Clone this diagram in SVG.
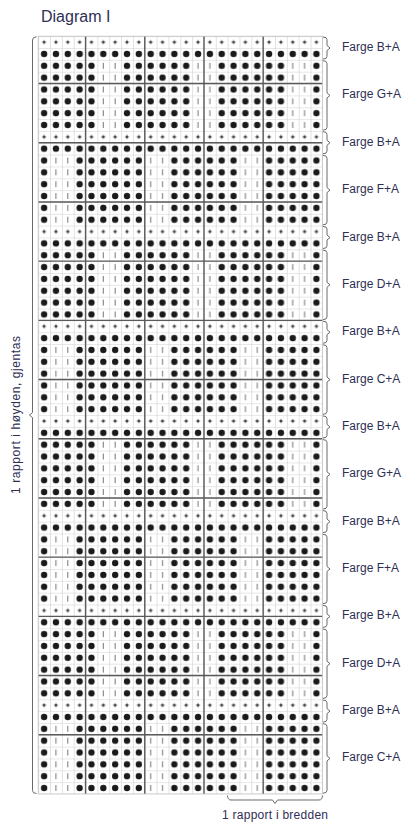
<svg xmlns="http://www.w3.org/2000/svg" width="408" height="823" viewBox="0 0 408 823">
<style>
text{font-family:"Liberation Sans",Arial,sans-serif;fill:#2f2f55}
.lbl{font-size:12px}
.brace{fill:none;stroke:#6a6a6a;stroke-width:1}
.thick{fill:none;stroke:#5a5a5a;stroke-width:1.4}
</style>
<defs>
<circle id="d" r="3.2" fill="#1a1a1a"/>
<line id="b" x1="0" y1="-3" x2="0" y2="3" stroke="#808080" stroke-width="1.1"/>
<g id="p"><path d="M-2.5 0H2.5M0 -2.5V2.5" stroke="#b0b0b0" stroke-width="0.7"/><circle r="1.5" fill="#444"/></g>
<pattern id="pGrid" x="38.2" y="36.2" width="11.84" height="11.84" patternUnits="userSpaceOnUse"><path d="M0 0H11.84M0 0V11.84" stroke="#cfcfcf" stroke-width="1.2" fill="none"/></pattern>
<pattern id="pPlus" x="38.2" y="36.2" width="11.84" height="11.84" patternUnits="userSpaceOnUse"><use href="#p" x="5.92" y="5.92"/></pattern>
<pattern id="pDot" x="38.2" y="36.2" width="11.84" height="11.84" patternUnits="userSpaceOnUse"><use href="#d" x="5.92" y="5.92"/></pattern>
<pattern id="pA" x="38.2" y="36.2" width="94.72" height="11.84" patternUnits="userSpaceOnUse">
<use href="#d" x="5.92" y="5.92"/><use href="#d" x="17.76" y="5.92"/><use href="#d" x="29.6" y="5.92"/><use href="#d" x="41.44" y="5.92"/><use href="#d" x="53.28" y="5.92"/><use href="#b" x="65.12" y="5.92"/><use href="#b" x="76.96" y="5.92"/><use href="#d" x="88.8" y="5.92"/>
</pattern>
<pattern id="pB" x="38.2" y="36.2" width="94.72" height="11.84" patternUnits="userSpaceOnUse">
<use href="#d" x="5.92" y="5.92"/><use href="#b" x="17.76" y="5.92"/><use href="#b" x="29.6" y="5.92"/><use href="#d" x="41.44" y="5.92"/><use href="#d" x="53.28" y="5.92"/><use href="#d" x="65.12" y="5.92"/><use href="#d" x="76.96" y="5.92"/><use href="#d" x="88.8" y="5.92"/>
</pattern>
</defs>
<rect width="408" height="823" fill="#fff"/>
<text x="41" y="22" style="font-size:16px">Diagram I</text>
<g id="chart">
<rect x="38.2" y="36.2" width="284.16" height="757.76" fill="url(#pGrid)"/>
<g id="rows">
<rect x="38.2" y="36.2" width="284.16" height="11.84" fill="url(#pPlus)"/>
<rect x="38.2" y="48.04" width="284.16" height="11.84" fill="url(#pDot)"/>
<rect x="38.2" y="59.88" width="284.16" height="71.04" fill="url(#pA)"/>
<rect x="38.2" y="130.92" width="284.16" height="11.84" fill="url(#pPlus)"/>
<rect x="38.2" y="142.76" width="284.16" height="11.84" fill="url(#pDot)"/>
<rect x="38.2" y="154.6" width="284.16" height="71.04" fill="url(#pB)"/>
<rect x="38.2" y="225.64" width="284.16" height="11.84" fill="url(#pPlus)"/>
<rect x="38.2" y="237.48" width="284.16" height="11.84" fill="url(#pDot)"/>
<rect x="38.2" y="249.32" width="284.16" height="71.04" fill="url(#pA)"/>
<rect x="38.2" y="320.36" width="284.16" height="11.84" fill="url(#pPlus)"/>
<rect x="38.2" y="332.2" width="284.16" height="11.84" fill="url(#pDot)"/>
<rect x="38.2" y="344.04" width="284.16" height="71.04" fill="url(#pB)"/>
<rect x="38.2" y="415.08" width="284.16" height="11.84" fill="url(#pPlus)"/>
<rect x="38.2" y="426.92" width="284.16" height="11.84" fill="url(#pDot)"/>
<rect x="38.2" y="438.76" width="284.16" height="71.04" fill="url(#pA)"/>
<rect x="38.2" y="509.8" width="284.16" height="11.84" fill="url(#pPlus)"/>
<rect x="38.2" y="521.64" width="284.16" height="11.84" fill="url(#pDot)"/>
<rect x="38.2" y="533.48" width="284.16" height="71.04" fill="url(#pB)"/>
<rect x="38.2" y="604.52" width="284.16" height="11.84" fill="url(#pPlus)"/>
<rect x="38.2" y="616.36" width="284.16" height="11.84" fill="url(#pDot)"/>
<rect x="38.2" y="628.2" width="284.16" height="71.04" fill="url(#pA)"/>
<rect x="38.2" y="699.24" width="284.16" height="11.84" fill="url(#pPlus)"/>
<rect x="38.2" y="711.08" width="284.16" height="11.84" fill="url(#pDot)"/>
<rect x="38.2" y="722.92" width="284.16" height="71.04" fill="url(#pB)"/>
</g>
<path class="thick" d="M85.56 36.2V793.96M144.76 36.2V793.96M203.96 36.2V793.96M263.16 36.2V793.96M38.2 83.56H322.36M38.2 142.76H322.36M38.2 201.96H322.36M38.2 261.16H322.36M38.2 320.36H322.36M38.2 379.56H322.36M38.2 438.76H322.36M38.2 497.96H322.36M38.2 557.16H322.36M38.2 616.36H322.36M38.2 675.56H322.36M38.2 734.76H322.36"/>
<rect x="38.2" y="36.2" width="284.16" height="757.76" fill="none" stroke="#bdbdbd" stroke-width="0.8"/>
</g>
<g id="braces">
<path class="brace" d="M323 37 Q327 37 327 39.7 V45.5 L330 48.04 L327 50.5 V56.4 Q327 59.1 323 59.1"/>
<path class="brace" d="M323 60.7 Q327 60.7 327 63.4 V92.9 L330 95.4 L327 97.9 V127.4 Q327 130.1 323 130.1"/>
<path class="brace" d="M323 131.7 Q327 131.7 327 134.4 V140.3 L330 142.76 L327 145.3 V151.1 Q327 153.8 323 153.8"/>
<path class="brace" d="M323 155.4 Q327 155.4 327 158.1 V187.6 L330 190.1 L327 192.6 V222.1 Q327 224.8 323 224.8"/>
<path class="brace" d="M323 226.4 Q327 226.4 327 229.1 V235 L330 237.5 L327 240 V245.8 Q327 248.5 323 248.5"/>
<path class="brace" d="M323 250.1 Q327 250.1 327 252.8 V282.3 L330 284.8 L327 287.3 V316.9 Q327 319.6 323 319.6"/>
<path class="brace" d="M323 321.2 Q327 321.2 327 323.9 V329.7 L330 332.2 L327 334.7 V340.5 Q327 343.2 323 343.2"/>
<path class="brace" d="M323 344.8 Q327 344.8 327 347.5 V377.1 L330 379.6 L327 382.1 V411.6 Q327 414.3 323 414.3"/>
<path class="brace" d="M323 415.9 Q327 415.9 327 418.6 V424.4 L330 426.9 L327 429.4 V435.3 Q327 438 323 438"/>
<path class="brace" d="M323 439.6 Q327 439.6 327 442.3 V471.8 L330 474.3 L327 476.8 V506.3 Q327 509 323 509"/>
<path class="brace" d="M323 510.6 Q327 510.6 327 513.3 V519.1 L330 521.6 L327 524.1 V530 Q327 532.7 323 532.7"/>
<path class="brace" d="M323 534.3 Q327 534.3 327 537 V566.5 L330 569 L327 571.5 V601 Q327 603.7 323 603.7"/>
<path class="brace" d="M323 605.3 Q327 605.3 327 608 V613.9 L330 616.4 L327 618.9 V624.7 Q327 627.4 323 627.4"/>
<path class="brace" d="M323 629 Q327 629 327 631.7 V661.2 L330 663.7 L327 666.2 V695.7 Q327 698.4 323 698.4"/>
<path class="brace" d="M323 700 Q327 700 327 702.7 V708.6 L330 711.1 L327 713.6 V719.4 Q327 722.1 323 722.1"/>
<path class="brace" d="M323 723.7 Q327 723.7 327 726.4 V755.9 L330 758.4 L327 760.9 V790.5 Q327 793.2 323 793.2"/>
<path class="brace" d="M36.5 36.8 Q32.5 36.8 32.5 40 V412.6 L29.5 415.08 L32.5 417.6 V790.5 Q32.5 793.5 36.5 793.5"/>
<path class="brace" d="M227.6 795.5 Q227.6 800 231 800 H272.5 L275 803.5 L277.5 800 H319 Q322.4 800 322.4 795.5"/>
</g>
<g id="labels" class="lbl">
<text x="342" y="51">Farge B+A</text>
<text x="342" y="98.4">Farge G+A</text>
<text x="342" y="145.8">Farge B+A</text>
<text x="342" y="193.1">Farge F+A</text>
<text x="342" y="240.5">Farge B+A</text>
<text x="342" y="287.8">Farge D+A</text>
<text x="342" y="335.2">Farge B+A</text>
<text x="342" y="382.6">Farge C+A</text>
<text x="342" y="429.9">Farge B+A</text>
<text x="342" y="477.3">Farge G+A</text>
<text x="342" y="524.6">Farge B+A</text>
<text x="342" y="572">Farge F+A</text>
<text x="342" y="619.4">Farge B+A</text>
<text x="342" y="666.7">Farge D+A</text>
<text x="342" y="714.1">Farge B+A</text>
<text x="342" y="761.4">Farge C+A</text>
<text x="275" y="819" text-anchor="middle" textLength="106">1 rapport i bredden</text>
<text transform="translate(20 415) rotate(-90)" text-anchor="middle" textLength="158">1 rapport i høyden, gjentas</text>
</g>
</svg>
